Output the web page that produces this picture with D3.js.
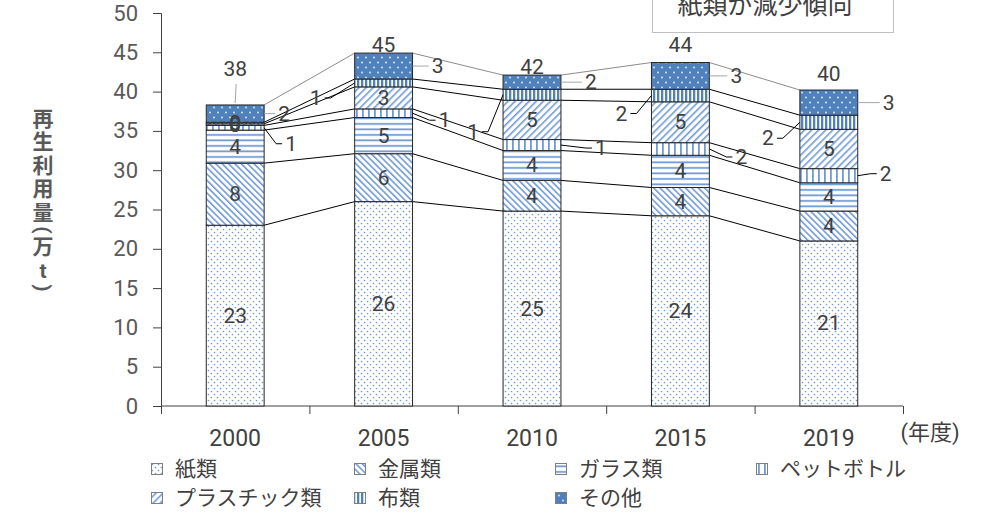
<!DOCTYPE html>
<meta charset="utf-8">
<script src="https://d3js.org/d3.v7.min.js"></script>
<style>
  body { margin: 0; background: #fff; }
  svg text { font-family: Roboto, "Noto Sans CJK JP", sans-serif; }
</style>
<div id="chart"></div>
<script>
// data (万t)
var years = ["2000", "2005", "2010", "2015", "2019"];
var seriesNames = ["紙類", "金属類", "ガラス類", "ペットボトル", "プラスチック類", "布類", "その他"];
var paper   = [23.0, 26.0, 24.8, 24.2, 21.0];
var metal   = [7.9, 6.1, 3.9, 3.6, 3.8];
var glass   = [4.2, 4.6, 3.8, 4.1, 3.6];
var pet     = [0.6, 1.1, 1.4, 1.6, 1.8];
var plastic = [0.2, 2.8, 5.0, 5.2, 5.0];
var cloth   = [0.2, 1.0, 1.4, 1.6, 1.8];
var other   = [2.2, 3.3, 1.8, 3.4, 3.2];
var yTicks = [0, 5, 10, 15, 20, 25, 30, 35, 40, 45, 50];
var yTitle = "再生利用量(万t)";
var xUnit = "(年度)";
var note = "紙類が減少傾向";

var values = [paper, metal, glass, pet, plastic, cloth, other];
var keys = ["paper", "metal", "glass", "pet", "plastic", "cloth", "other"];

var table = years.map(function(yr, i) {
  var row = { year: yr };
  keys.forEach(function(k, j) { row[k] = values[j][i]; });
  return row;
});

var width = 999, height = 514;
var svg = d3.select("#chart").append("svg")
  .attr("width", width)
  .attr("height", height);

// patterns
var blue = "#4f81bd", stripe = "#6f9ad6";
var defs = svg.append("defs");
function pat(id, w, h, transform) {
  var p = defs.append("pattern").attr("id", id)
    .attr("patternUnits", "userSpaceOnUse")
    .attr("width", w).attr("height", h);
  if (transform) p.attr("patternTransform", transform);
  return p;
}
var p;
p = pat("p-paper", 6, 6);
p.append("rect").attr("width", 6).attr("height", 6).attr("fill", "#fff");
p.append("circle").attr("cx", 1.5).attr("cy", 1.5).attr("r", 0.85).attr("fill", stripe);
p.append("circle").attr("cx", 4.5).attr("cy", 4.5).attr("r", 0.85).attr("fill", stripe);

p = pat("p-metal", 4.5, 4.5, "rotate(-45)");
p.append("rect").attr("width", 4.5).attr("height", 4.5).attr("fill", "#fff");
p.append("rect").attr("width", 1.6).attr("height", 4.5).attr("fill", stripe);

p = pat("p-glass", 6, 5.5);
p.append("rect").attr("width", 6).attr("height", 5.5).attr("fill", "#fff");
p.append("rect").attr("y", 2).attr("width", 6).attr("height", 1.8).attr("fill", stripe);

p = pat("p-pet", 6, 6);
p.append("rect").attr("width", 6).attr("height", 6).attr("fill", "#fff");
p.append("rect").attr("x", 2).attr("width", 1.8).attr("height", 6).attr("fill", stripe);

p = pat("p-plastic", 5, 5, "rotate(45)");
p.append("rect").attr("width", 5).attr("height", 5).attr("fill", "#fff");
p.append("rect").attr("width", 1.6).attr("height", 5).attr("fill", stripe);

p = pat("p-cloth", 4, 4);
p.append("rect").attr("width", 4).attr("height", 4).attr("fill", "#fff");
p.append("rect").attr("x", 1).attr("width", 2.3).attr("height", 4).attr("fill", blue);

p = pat("p-other", 8, 10);
p.append("rect").attr("width", 8).attr("height", 10).attr("fill", blue);
p.append("circle").attr("cx", 2).attr("cy", 2.5).attr("r", 0.9).attr("fill", "#e8eef8");
p.append("circle").attr("cx", 6).attr("cy", 7.5).attr("r", 0.9).attr("fill", "#e8eef8");

// scales
var y = d3.scaleLinear().domain([0, 50]).range([406, 13]);
var x = d3.scaleBand().domain(years).range([161, 903])
  .paddingInner(0.61).paddingOuter(0.305);
var bw = x.bandwidth();

var stacked = d3.stack().keys(keys)(table);

// y axis
var yAxis = svg.append("g")
  .attr("transform", "translate(161,0)")
  .call(d3.axisLeft(y).tickValues(yTicks).tickSize(8).tickPadding(15));
yAxis.select(".domain").attr("stroke", "#404040");
yAxis.selectAll(".tick line").attr("stroke", "#404040");
yAxis.selectAll("text").attr("fill", "#595959").style("font-size", "22px");

// x axis: boundary ticks + labels
var xb = d3.scaleLinear().domain([0, years.length]).range([161, 903]);
var xAxis = svg.append("g")
  .attr("transform", "translate(0,406)")
  .call(d3.axisBottom(xb).ticks(years.length).tickSize(8).tickFormat(""));
xAxis.select(".domain").attr("stroke", "#404040").attr("d", "M161,0H903");
xAxis.selectAll(".tick line").attr("stroke", "#404040");

var xLab = svg.append("g")
  .attr("transform", "translate(0,406)")
  .call(d3.axisBottom(x).tickSize(0).tickPadding(24));
xLab.select(".domain").remove();
xLab.selectAll("text").attr("fill", "#404040").style("font-size", "23px");

svg.append("text")
  .attr("x", 930).attr("y", 440)
  .attr("text-anchor", "middle")
  .attr("fill", "#404040")
  .style("font-size", "22px")
  .text(xUnit);

// y title, one char at a time, vertical
var cursor = 107;
yTitle.split("").forEach(function(ch) {
  var paren = ch === "(" || ch === ")";
  var h = paren ? 11 : 23.5;
  var cy = cursor + h / 2;
  cursor += h;
  svg.append("text")
    .attr("x", 0).attr("y", 0)
    .attr("transform", "translate(43," + cy + ")" + (paren ? " rotate(90)" : ""))
    .attr("text-anchor", "middle")
    .attr("dominant-baseline", "central")
    .attr("fill", "#595959")
    .style("font-size", "21px")
    .style("font-weight", "bold")
    .text(ch);
});

// series lines between bars
var lineG = svg.append("g");
stacked.forEach(function(s, k) {
  for (var i = 0; i < years.length - 1; i++) {
    lineG.append("line")
      .attr("x1", x(years[i]) + bw).attr("y1", y(s[i][1]))
      .attr("x2", x(years[i + 1])).attr("y2", y(s[i + 1][1]))
      .attr("stroke", k === stacked.length - 1 ? "#8c8c8c" : "#000")
      .attr("stroke-width", 1);
  }
});

// bars
svg.append("g").selectAll("g")
  .data(stacked)
  .enter().append("g")
  .attr("fill", function(d) { return "url(#p-" + d.key + ")"; })
  .selectAll("rect")
  .data(function(d) { return d; })
  .enter().append("rect")
  .attr("x", function(d) { return x(d.data.year); })
  .attr("y", function(d) { return y(d[1]); })
  .attr("width", bw)
  .attr("height", function(d) { return y(d[0]) - y(d[1]); })
  .attr("stroke", "#262626")
  .attr("stroke-width", 1);

// data labels: inside, or outside with a leader
// offsets: [side, dx, dy] per year, side 1 = right of bar, -1 = left
var outside = {
  pet:   [[1, 27, 16], [1, 32, 7], [1, 40, 3], [1, 32, 8], [1, 28, -2]],
  cloth: [null, [-1, 39, 15], [-1, 30, 37], [-1, 30, 18], [-1, 32, 16]],
  other: [[1, 20, 0], [1, 25, 0], [1, 30, 0], [1, 27, 0], [1, 31, 0]]
};
var labG = svg.append("g");
stacked.forEach(function(s) {
  s.forEach(function(d, i) {
    var yr = years[i];
    var mid = (y(d[0]) + y(d[1])) / 2;
    var txt = Math.round(d[1] - d[0]);
    var o = outside[s.key] ? outside[s.key][i] : null;
    var lx, ly;
    if (!o) {
      lx = x(yr) + bw / 2; ly = mid;
    } else {
      var edge = o[0] > 0 ? x(yr) + bw : x(yr);
      lx = edge + o[0] * o[1]; ly = mid + o[2];
      var gray = s.key === "other";
      var ex = lx - o[0] * 9;
      var path = gray
        ? "M" + edge + "," + mid + "H" + ex
        : "M" + edge + "," + mid + "L" + (ex - o[0] * 6) + "," + ly + "H" + ex;
      labG.append("path")
        .attr("d", path)
        .attr("fill", "none")
        .attr("stroke", gray ? "#a6a6a6" : "#000")
        .attr("stroke-width", 1);
    }
    labG.append("text")
      .attr("x", lx).attr("y", ly)
      .attr("text-anchor", "middle")
      .attr("dominant-baseline", "central")
      .attr("fill", "#404040")
      .style("font-size", "21px")
      .text(txt);
  });
});

// totals
var totalDy = [-36, -8, -8, -18, -16];
stacked[stacked.length - 1].forEach(function(d, i) {
  var cx = x(years[i]) + bw / 2;
  var top = y(d[1]);
  if (totalDy[i] < -20) {
    labG.append("line")
      .attr("x1", cx).attr("y1", top - 2)
      .attr("x2", cx + 1).attr("y2", top + totalDy[i] + 15)
      .attr("stroke", "#a6a6a6");
  }
  labG.append("text")
    .attr("x", cx).attr("y", top + totalDy[i])
    .attr("text-anchor", "middle")
    .attr("dominant-baseline", "central")
    .attr("fill", "#404040")
    .style("font-size", "21px")
    .text(Math.round(d[1]));
});

// note box
svg.append("rect")
  .attr("x", 652.5).attr("y", -5)
  .attr("width", 241).attr("height", 37.5)
  .attr("fill", "#fff")
  .attr("stroke", "#bfbfbf");
svg.append("text")
  .attr("x", 765).attr("y", 14)
  .attr("text-anchor", "middle")
  .attr("fill", "#404040")
  .style("font-size", "25px")
  .text(note);

// legend
var legX = [157, 360, 561, 762];
var legY = [469, 498];
var leg = svg.append("g").selectAll("g")
  .data(keys)
  .enter().append("g")
  .attr("transform", function(d, i) {
    return "translate(" + legX[i % 4] + "," + legY[Math.floor(i / 4)] + ")";
  });
leg.append("rect")
  .attr("x", -5.5).attr("y", -5.5)
  .attr("width", 11).attr("height", 11)
  .attr("fill", function(d) { return "url(#p-" + d + ")"; })
  .attr("stroke", "#7f7f7f");
leg.append("text")
  .attr("x", 18).attr("y", 0)
  .attr("dominant-baseline", "central")
  .attr("fill", "#404040")
  .style("font-size", "21px")
  .text(function(d, i) { return seriesNames[i]; });
</script>
